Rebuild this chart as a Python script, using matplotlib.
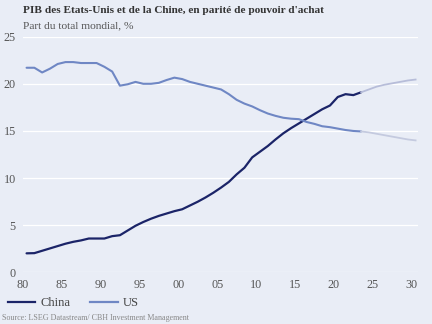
"""
PIB des Etats-Unis et de la Chine, en parite de pouvoir d'achat (part du total mondial).
"""

import numpy as np
import matplotlib
matplotlib.use("Agg")
import matplotlib.pyplot as plt
from matplotlib.lines import Line2D

years = np.arange(1980, 2024)
china = [2.03, 2.05, 2.3, 2.55, 2.8, 3.05, 3.25, 3.4, 3.6, 3.6,
         3.6, 3.85, 3.95, 4.45, 4.95, 5.35, 5.7, 6.0, 6.25, 6.5,
         6.7, 7.1, 7.5, 7.95, 8.45, 9.0, 9.6, 10.4, 11.1, 12.2,
         12.8, 13.4, 14.1, 14.75, 15.3, 15.8, 16.3, 16.8, 17.3, 17.7,
         18.6, 18.9, 18.8, 19.1]
us = [21.7, 21.7, 21.2, 21.6, 22.1, 22.3, 22.3, 22.2, 22.2, 22.2,
      21.8, 21.3, 19.8, 19.95, 20.2, 20.0, 20.0, 20.1, 20.4, 20.65,
      20.5, 20.2, 20.0, 19.8, 19.6, 19.4, 18.9, 18.3, 17.9, 17.6,
      17.2, 16.85, 16.6, 16.4, 16.3, 16.25, 15.95, 15.75, 15.5, 15.4,
      15.25, 15.1, 15.0, 14.95]

proj_years = np.arange(2023, 2031)
china_proj = [19.1, 19.4, 19.7, 19.9, 20.05, 20.2, 20.35, 20.45]
us_proj = [14.95, 14.85, 14.7, 14.55, 14.4, 14.25, 14.1, 14.0]

tick_years = np.arange(1980, 2031, 5)
tick_labels = ["80", "85", "90", "95", "00", "05", "10", "15", "20", "25", "30"]

BG = "#e9edf6"
NAVY = "#1b2468"
BLUE = "#6f87c4"
serif = ["Liberation Serif", "DejaVu Serif"]

fig = plt.figure(figsize=(4.32, 3.24), dpi=100, facecolor=BG)
ax = fig.add_axes([0.0525, 0.159, 0.914, 0.728], facecolor=BG)

# annual values plotted at mid-year
ax.plot(years + 0.5, china, color=NAVY, lw=1.6, solid_capstyle="round")
ax.plot(years + 0.5, us, color=BLUE, lw=1.5, solid_capstyle="round")
ax.plot(proj_years + 0.5, china_proj, color="#b7bdd9", lw=1.3)
ax.plot(proj_years + 0.5, us_proj, color="#c4cadf", lw=1.3)

ax.set_xlim(1980, 2030.75)
ax.set_ylim(0, 25)
ax.set_xticks(tick_years)
ax.set_xticklabels(tick_labels)
ax.set_yticks([0, 5, 10, 15, 20, 25])
ax.grid(axis="y", color="white", lw=0.9)
ax.set_axisbelow(True)
for s in ax.spines.values():
    s.set_visible(False)
ax.tick_params(length=0, colors="#555555", labelsize=8.7)
ax.tick_params(axis="x", pad=5)
ax.tick_params(axis="y", pad=5)
for lab in ax.get_xticklabels() + ax.get_yticklabels():
    lab.set_family(serif)

fig.text(0.053, 0.968, "PIB des Etats-Unis et de la Chine, en parité de pouvoir d'achat",
         family=serif, fontweight="bold", fontsize=8.1, color="#333333", va="center")
fig.text(0.053, 0.919, "Part du total mondial, %", family=serif, fontsize=8.2,
         color="#555555", va="center")

handles = [Line2D([], [], color=NAVY, lw=1.6), Line2D([], [], color=BLUE, lw=1.6)]
leg = fig.legend(handles, ["China", "US"], loc="center left", bbox_to_anchor=(0.0185, 0.065),
                 ncol=2, frameon=False, handlelength=2.2, handletextpad=0.4,
                 columnspacing=1.6, borderpad=0, borderaxespad=0,
                 prop={"family": serif, "size": 9})
for t in leg.get_texts():
    t.set_color("#444444")

fig.text(0.005, 0.018, "Source: LSEG Datastream/ CBH Investment Management",
         family=serif, fontsize=5.8, color="#888888", va="center")

fig.savefig("out.png", dpi=100, facecolor=BG)
